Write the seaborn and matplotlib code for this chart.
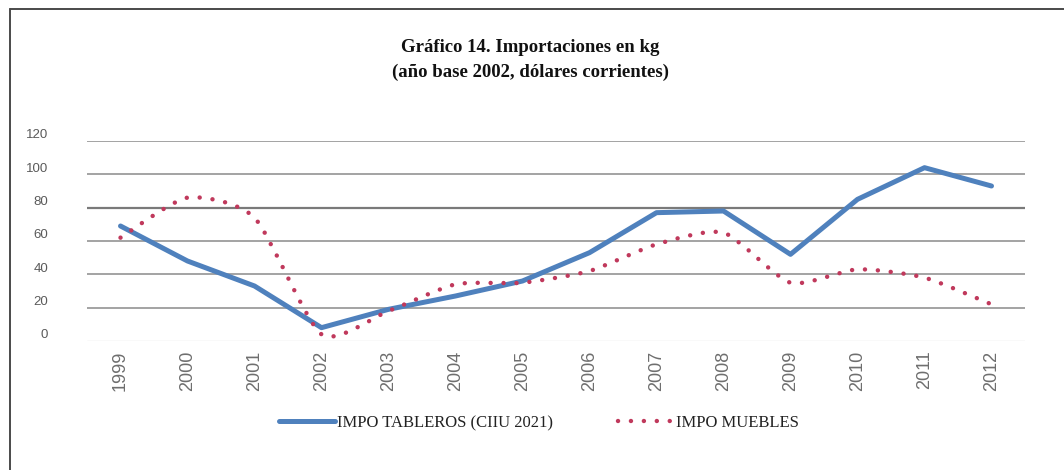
import numpy as np
import pandas as pd
import matplotlib
matplotlib.use("Agg")
import matplotlib.pyplot as plt
import matplotlib.transforms as mtransforms
from matplotlib.path import Path
from matplotlib.patches import PathPatch
from matplotlib.lines import Line2D
import seaborn as sns

# Data
years = ["1999", "2000", "2001", "2002", "2003", "2004", "2005",
         "2006", "2007", "2008", "2009", "2010", "2011", "2012"]
tableros = [69, 48, 33, 8, 19, 27, 36, 53, 77, 78, 52, 85, 104, 93]
muebles = [62, 86, 74, 4, 18, 34, 35, 42, 58, 65, 35, 43, 38, 22]
y_ticks = [0, 20, 40, 60, 80, 100, 120]

title_text = "Gráfico 14. Importaciones en kg\n(año base 2002, dólares corrientes)"
label_tableros = "IMPO TABLEROS (CIIU 2021)"
label_muebles = "IMPO MUEBLES"

BLUE = "#4F81BD"
RED = "#C0395C"
GRID = "#8a8a8a"
TICK = "#5a5a5a"
XTICK = "#6e6e6e"

sns.set_theme(style="white")
plt.rcParams["font.family"] = ["Liberation Sans", "DejaVu Sans"]

fig = plt.figure(figsize=(10.64, 4.70), dpi=100)
ax = fig.add_axes([87 / 1064, 1 - 341 / 470, (1025 - 87) / 1064, 200 / 470])

df = pd.DataFrame({"year": years, "tableros": tableros})
sns.lineplot(data=df, x="year", y="tableros", ax=ax, color=BLUE,
             linewidth=3.6, solid_capstyle="round", solid_joinstyle="round",
             sort=False)

# Smoothed dotted curve for furniture imports (cardinal-spline Bezier)
TENSION = 9.0
xs = np.arange(len(years), dtype=float)
ys = np.asarray(muebles, dtype=float)
pts = np.column_stack([xs, ys])
verts = [tuple(pts[0])]
codes = [Path.MOVETO]
n = len(pts)
for i in range(n - 1):
    p_prev = pts[max(i - 1, 0)]
    p0 = pts[i]
    p1 = pts[i + 1]
    p_next = pts[min(i + 2, n - 1)]
    c1 = p0 + (p1 - p_prev) / TENSION
    c2 = p1 - (p_next - p0) / TENSION
    verts += [tuple(c1), tuple(c2), tuple(p1)]
    codes += [Path.CURVE4, Path.CURVE4, Path.CURVE4]
curve = PathPatch(Path(verts, codes), fill=False, edgecolor=RED,
                  linewidth=3.2, linestyle=(0, (0.01, 2.9)),
                  capstyle="round", zorder=3)
ax.add_patch(curve)

ax.set_xlim(-0.5, len(years) - 0.5)
ax.set_ylim(0, 120)
ax.set_yticks(y_ticks)
ax.set_xlabel("")
ax.set_ylabel("")

for v in y_ticks:
    if v == 0:
        ax.axhline(v, color="#e2e2e2", linewidth=1.0, zorder=0)
    elif v == 80:
        ax.axhline(v, color="#7a7a7a", linewidth=1.6, zorder=0)
    else:
        ax.axhline(v, color=GRID, linewidth=1.1, zorder=0)

for s in ax.spines.values():
    s.set_visible(False)

ax.tick_params(axis="y", length=0, pad=28, labelsize=9.5, labelcolor=TICK)
ax.tick_params(axis="x", length=0, pad=7, labelsize=13, labelcolor=XTICK,
               labelrotation=90)
lift = mtransforms.ScaledTranslation(0, 0.07, fig.dpi_scale_trans)
for lab in ax.get_yticklabels():
    lab.set_transform(lab.get_transform() + lift)

fig.text(530 / 1064, 1 - 60 / 470, title_text, ha="center", va="center",
         fontsize=13.5, fontweight="bold", family="Liberation Serif",
         linespacing=1.6, color="#111111")

handles = [
    Line2D([], [], color=BLUE, linewidth=3.6, solid_capstyle="round"),
    Line2D([], [], color=RED, linewidth=3.2, linestyle=(0, (0.01, 2.9)),
           dash_capstyle="round"),
]
fig.legend(handles, [label_tableros, label_muebles], loc="center",
           bbox_to_anchor=(539 / 1064, 1 - 423 / 470), ncol=2, frameon=False,
           prop={"family": "Liberation Serif", "size": 12},
           handlelength=3.4, handletextpad=0.1, columnspacing=3.9,
           labelcolor="#222222")

# Outer frame
frame_kw = dict(color="#4a4a4a", linewidth=1.4, transform=fig.transFigure)
fig.add_artist(Line2D([10 / 1064, 1.0], [1 - 9 / 470, 1 - 9 / 470], **frame_kw))
fig.add_artist(Line2D([10 / 1064, 10 / 1064], [0.0, 1 - 9 / 470], **frame_kw))

fig.savefig("out.png", dpi=100, facecolor="white")
